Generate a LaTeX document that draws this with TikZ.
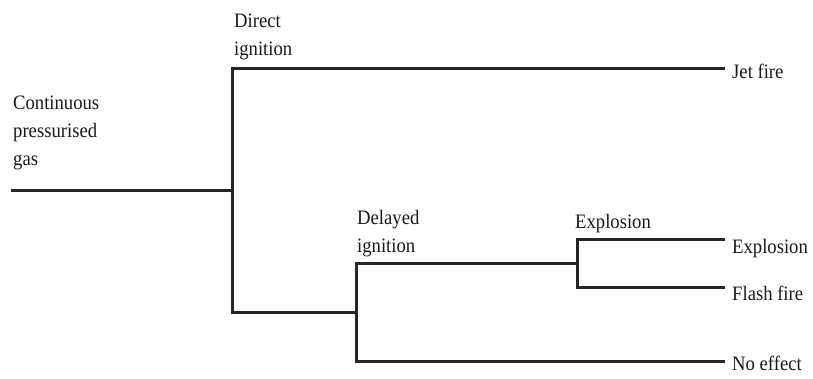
\documentclass[tikz,border=0pt]{standalone}
\usepackage{fontspec}
\setmainfont{Liberation Serif}[FakeStretch=0.91]
\begin{document}
\begin{tikzpicture}[x=1pt,y=-1pt,
  branch/.style={line width=3pt, draw=black!85, line join=miter, line cap=rect},
  lbl/.style={inner sep=0pt, anchor=base west, align=left, text=black!90,
    font=\fontsize{20.5pt}{28pt}\selectfont}]
\useasboundingbox (0,0) rectangle (813,378);
% junction coordinates
\coordinate (s) at (12,190);
\coordinate (a) at (232,190);
\coordinate (at) at (232,68);
\coordinate (ab) at (232,312);
\coordinate (b) at (356,312);
\coordinate (bt) at (356,263);
\coordinate (bb) at (356,361);
\coordinate (c) at (577,263);
\coordinate (ct) at (577,239);
\coordinate (cb) at (577,287);
% labels (base anchor = baseline of last line)
\node[lbl] (src) at (13,165) {Continuous\\pressurised\\gas};
\node[lbl] (direct) at (234,55) {Direct\\ignition};
\node[lbl] (delayed) at (357,252) {Delayed\\ignition};
\node[lbl] (explmid) at (575,228) {Explosion};
\node[lbl] (jet) at (732,78) {Jet fire};
\node[lbl] (expl) at (732,253) {Explosion};
\node[lbl] (flash) at (732,300) {Flash fire};
\node[lbl] (noeff) at (732,370) {No effect};
% connectors
\draw[branch] (s) -- (a);
\draw[branch] ([xshift=-9pt]jet.west |- at) -- (at) -- (ab) -- (b);
\draw[branch] (bt) -- (bb);
\draw[branch] (bt) -- (c);
\draw[branch] ([xshift=-9pt]expl.west |- ct) -- (ct) -- (cb) -- ([xshift=-9pt]flash.west |- cb);
\draw[branch] (bb) -- ([xshift=-9pt]noeff.west |- bb);
\end{tikzpicture}
\end{document}
